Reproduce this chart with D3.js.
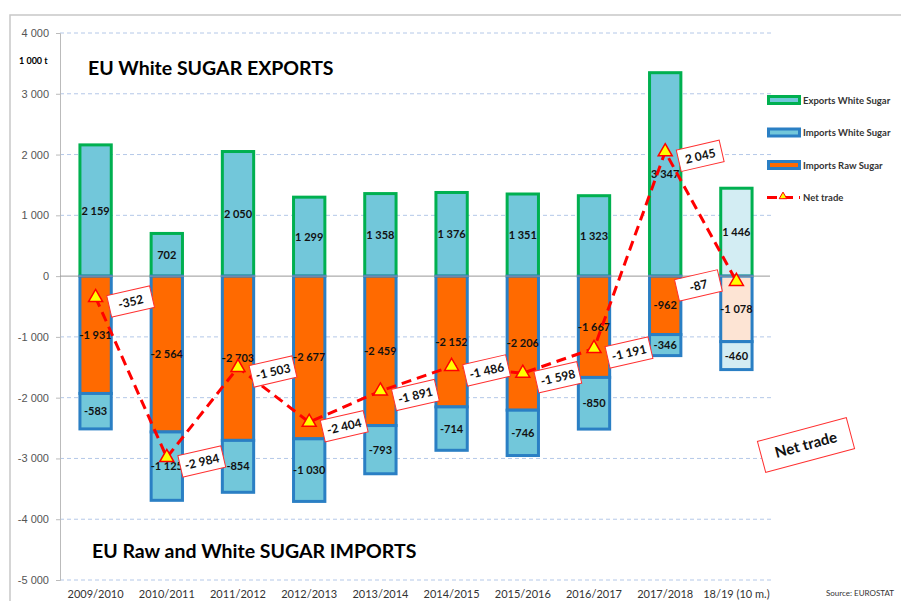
<!DOCTYPE html>
<html>
<head>
<meta charset="utf-8">
<script src="https://cdn.jsdelivr.net/npm/d3@7"></script>
<style>
    body { margin: 0; background: #fff; }
    svg { font-family: Lato, "Open Sans", sans-serif; }
</style>
</head>
<body>
<svg id="drawing_region"></svg>
<script>
const seasons = ["2009/2010", "2010/2011", "2011/2012", "2012/2013", "2013/2014",
    "2014/2015", "2015/2016", "2016/2017", "2017/2018", "18/19 (10 m.)"];
const exportsWhite = [2159, 702, 2050, 1299, 1358, 1376, 1351, 1323, 3347, 1446];
const importsRaw = [-1931, -2564, -2703, -2677, -2459, -2152, -2206, -1667, -962, -1078];
const importsWhite = [-583, -1125, -854, -1030, -793, -714, -746, -850, -346, -460];
const netTrade = [-352, -2984, -1503, -2404, -1891, -1486, -1598, -1191, 2045, -87];
const yTicks = [4000, 3000, 2000, 1000, 0, -1000, -2000, -3000, -4000, -5000];
const partialSeason = "18/19 (10 m.)";

const legendItems = ["Exports White Sugar", "Imports White Sugar", "Imports Raw Sugar", "Net trade"];

const width = 901, height = 601;
const svg = d3.select("#drawing_region").attr("width", width).attr("height", height);

const fmt = d3.formatLocale({ decimal: ".", thousands: "\u00a0", grouping: [3], currency: ["", ""], minus: "-" }).format(",");

const x = d3.scaleBand().domain(seasons).range([60, 772]).paddingInner(0.56).paddingOuter(0.28);
const y = d3.scaleLinear().domain([-5000, 4000]).range([580, 33]);

// outer frame
svg.append("rect")
    .attr("x", 10).attr("y", 15)
    .attr("width", 900).attr("height", 600)
    .attr("fill", "none").attr("stroke", "#c8c8c8").attr("stroke-width", 1.5);

// grid
svg.append("g").selectAll("line")
    .data(yTicks.filter(d => d !== 0))
    .join("line")
    .attr("x1", 60).attr("x2", 772)
    .attr("y1", d => y(d)).attr("y2", d => y(d))
    .attr("stroke", "#b4c8e8").attr("stroke-width", 1).attr("stroke-dasharray", "4,3");

// y axis
const yAxis = svg.append("g")
    .attr("transform", "translate(60,0)")
    .call(d3.axisLeft(y).tickValues(yTicks).tickFormat(fmt).tickSize(4).tickPadding(7));
yAxis.select(".domain").attr("stroke", "#bbb");
yAxis.selectAll(".tick line").attr("stroke", "#bbb");
yAxis.selectAll(".tick text").attr("font-size", 11).attr("fill", "#555");

// x labels
svg.append("g").selectAll("text")
    .data(seasons)
    .join("text")
    .attr("x", d => x(d) + x.bandwidth() / 2)
    .attr("y", 598)
    .attr("text-anchor", "middle")
    .attr("font-size", 11)
    .attr("fill", "#333")
    .text(d => d);

const rows = seasons.map((s, i) => ({
    season: s, exp: exportsWhite[i], raw: importsRaw[i], white: importsWhite[i], net: netTrade[i],
    partial: s === partialSeason
}));

const bars = svg.append("g");
const bw = x.bandwidth();

// export bars
bars.selectAll("rect.exp")
    .data(rows)
    .join("rect")
    .attr("class", "exp")
    .attr("x", d => x(d.season))
    .attr("y", d => y(d.exp))
    .attr("width", bw)
    .attr("height", d => y(0) - y(d.exp))
    .attr("fill", d => d.partial ? "#d3edf3" : "#72c7da")
    .attr("stroke", "#00b050").attr("stroke-width", 3);

// raw sugar imports
bars.selectAll("rect.raw")
    .data(rows)
    .join("rect")
    .attr("class", "raw")
    .attr("x", d => x(d.season))
    .attr("y", y(0))
    .attr("width", bw)
    .attr("height", d => y(d.raw) - y(0))
    .attr("fill", d => d.partial ? "#fde4d4" : "#ff6a00")
    .attr("stroke", "#2a7fc4").attr("stroke-width", 3);

// white sugar imports
bars.selectAll("rect.white")
    .data(rows)
    .join("rect")
    .attr("class", "white")
    .attr("x", d => x(d.season))
    .attr("y", d => y(d.raw))
    .attr("width", bw)
    .attr("height", d => y(d.raw + d.white) - y(d.raw))
    .attr("fill", d => d.partial ? "#d3edf3" : "#72c7da")
    .attr("stroke", "#2a7fc4").attr("stroke-width", 3);

// zero line
svg.append("line")
    .attr("x1", 60).attr("x2", 770)
    .attr("y1", y(0)).attr("y2", y(0))
    .attr("stroke", "#999").attr("stroke-width", 1);

// bar value labels
const valueLabels = svg.append("g")
    .attr("font-size", 11).attr("font-weight", "bold").attr("text-anchor", "middle").attr("fill", "#111");
valueLabels.selectAll("text.e")
    .data(rows).join("text").attr("class", "e")
    .attr("x", d => x(d.season) + bw / 2)
    .attr("y", d => y(d.exp / 2) + 4)
    .text(d => fmt(d.exp));
valueLabels.selectAll("text.r")
    .data(rows).join("text").attr("class", "r")
    .attr("x", d => x(d.season) + bw / 2)
    .attr("y", d => y(d.raw / 2) + 4)
    .text(d => fmt(d.raw));
valueLabels.selectAll("text.w")
    .data(rows).join("text").attr("class", "w")
    .attr("x", d => x(d.season) + bw / 2)
    .attr("y", d => y(d.raw + d.white / 2) + 4)
    .text(d => fmt(d.white));

// net trade line
const line = d3.line()
    .x(d => x(d.season) + bw / 2)
    .y(d => y(d.net));
svg.append("path")
    .datum(rows)
    .attr("d", line)
    .attr("fill", "none")
    .attr("stroke", "#ff0000")
    .attr("stroke-width", 3)
    .attr("stroke-dasharray", "10,6");

const tri = d3.symbol().type(d3.symbolTriangle).size(85);
svg.append("g").selectAll("path")
    .data(rows)
    .join("path")
    .attr("transform", d => `translate(${x(d.season) + bw / 2},${y(d.net)})`)
    .attr("d", tri)
    .attr("fill", "#ffff00")
    .attr("stroke", "#ff0000")
    .attr("stroke-width", 1.5);

// net trade labels in tilted boxes
const netLabels = svg.append("g").selectAll("g")
    .data(rows)
    .join("g")
    .attr("transform", d => {
        const dx = d.partial ? -38 : 35;
        return `translate(${x(d.season) + bw / 2 + dx},${y(d.net) + 4}) rotate(-13)`;
    });
netLabels.append("rect")
    .attr("x", -22).attr("y", -11).attr("width", 44).attr("height", 22)
    .attr("fill", "#fff").attr("stroke", "#ff3030").attr("stroke-width", 1);
netLabels.append("text")
    .attr("text-anchor", "middle").attr("y", 4.5)
    .attr("font-size", 12).attr("font-weight", "bold").attr("fill", "#111")
    .text(d => fmt(d.net));

// titles
svg.append("text").attr("x", 88).attr("y", 75)
    .attr("font-size", 19.5).attr("font-weight", "bold").attr("fill", "#000")
    .text("EU White SUGAR EXPORTS");
svg.append("text").attr("x", 92).attr("y", 558)
    .attr("font-size", 19.5).attr("font-weight", "bold").attr("fill", "#000")
    .text("EU Raw and White SUGAR IMPORTS");
svg.append("text").attr("x", 19).attr("y", 64)
    .attr("font-size", 9).attr("font-weight", "bold").attr("fill", "#000")
    .text("1 000 t");
svg.append("text").attr("x", 894).attr("y", 596).attr("text-anchor", "end")
    .attr("font-size", 8).attr("fill", "#333")
    .text("Source: EUROSTAT");

// "Net trade" callout
const callout = svg.append("g").attr("transform", "translate(806,445) rotate(-15)");
callout.append("rect")
    .attr("x", -46).attr("y", -16).attr("width", 92).attr("height", 32)
    .attr("fill", "#fff").attr("stroke", "#ff3030").attr("stroke-width", 1);
callout.append("text")
    .attr("text-anchor", "middle").attr("y", 5)
    .attr("font-size", 15).attr("font-weight", "bold").attr("fill", "#111")
    .text("Net trade");

// legend
const legend = svg.append("g").attr("transform", "translate(767,100)");
const legendRow = legend.selectAll("g")
    .data(legendItems)
    .join("g")
    .attr("transform", (d, i) => `translate(0,${i * 32.5})`);
legendRow.each(function(d, i) {
    const g = d3.select(this);
    if (i < 3) {
        const stroke = i === 0 ? "#00b050" : "#2a7fc4";
        const fill = i === 2 ? "#ff6a00" : "#72c7da";
        g.append("rect").attr("x", 1.5).attr("y", -3.5).attr("width", 31).attr("height", 7)
            .attr("fill", fill).attr("stroke", stroke).attr("stroke-width", 3);
    } else {
        g.append("line").attr("x1", 0).attr("x2", 33).attr("y1", 0).attr("y2", 0)
            .attr("stroke", "#ff0000").attr("stroke-width", 3).attr("stroke-dasharray", "10,6");
        g.append("path").attr("transform", "translate(16,-1)")
            .attr("d", d3.symbol().type(d3.symbolTriangle).size(25))
            .attr("fill", "#ffff00").attr("stroke", "#ff0000").attr("stroke-width", 1);
    }
    g.append("text").attr("x", 36).attr("y", 3.5)
        .attr("font-size", 9.5).attr("font-weight", "bold").attr("fill", "#333")
        .text(d);
});
</script>
</body>
</html>
